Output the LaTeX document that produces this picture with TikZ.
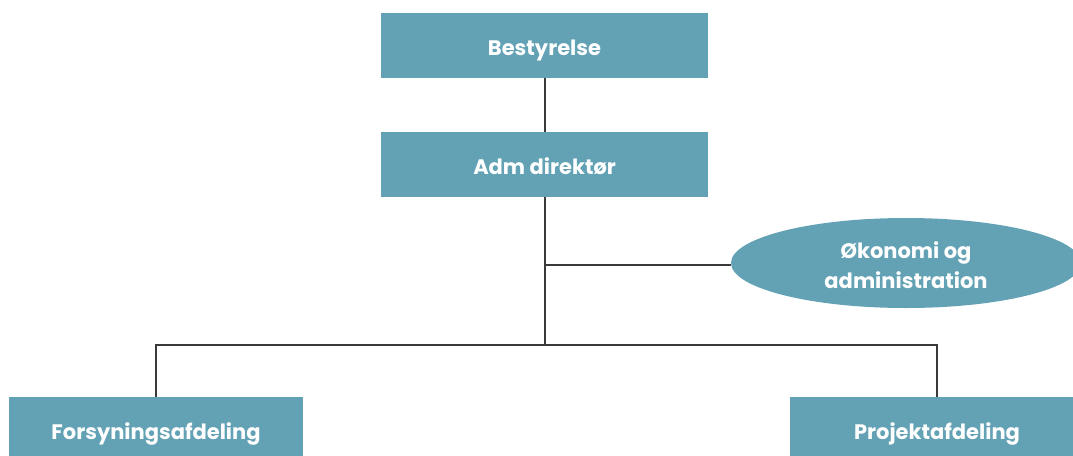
\documentclass[tikz,border=0pt]{standalone}
\usepackage{fontspec}
\setmainfont{Poppins}
\usetikzlibrary{shapes.geometric}
\definecolor{teal}{HTML}{62A2B4}
\definecolor{linec}{HTML}{3A3A3A}
\begin{document}
\begin{tikzpicture}[x=1pt,y=-1pt,
  box/.style={fill=teal, draw=none, minimum width=327pt, minimum height=65pt, inner sep=0pt,
    text=white, font=\fontsize{21}{30}\selectfont\bfseries, text height=20pt, text depth=0pt},
  lowbox/.style={box, minimum width=294pt},
  ell/.style={ellipse, fill=teal, draw=none, minimum width=350pt, minimum height=90pt, inner sep=0pt,
    text=white, align=center, font=\fontsize{21}{30}\selectfont\bfseries,
    text height=50.6pt, text depth=0pt},
  conn/.style={draw=linec, line width=1.2pt}]
\useasboundingbox (0,0) rectangle (1073,455);
\node[box] (best) at (544.5,45.5) {Bestyrelse};
\node[box] (adm) at (544.5,164.5) {Adm direktør};
\node[ell] (oko) at (906,263) {Økonomi og\\administration};
\node[lowbox] (fors) at (156,429.5) {Forsyningsafdeling};
\node[lowbox] (proj) at (937,429.5) {Projektafdeling};
\coordinate (j1) at (545,265);
\coordinate (j2) at (545,345);
\coordinate (l) at (156,345);
\coordinate (r) at (937,345);
\draw[conn] (best.south -| j1) -- (adm.north -| j1);
\draw[conn] (adm.south -| j1) -- (j2);
\draw[conn] (j1) -- (oko.west |- j1);
\draw[conn] (fors.north) -- (l) -- (r) -- (proj.north);
\end{tikzpicture}
\end{document}
